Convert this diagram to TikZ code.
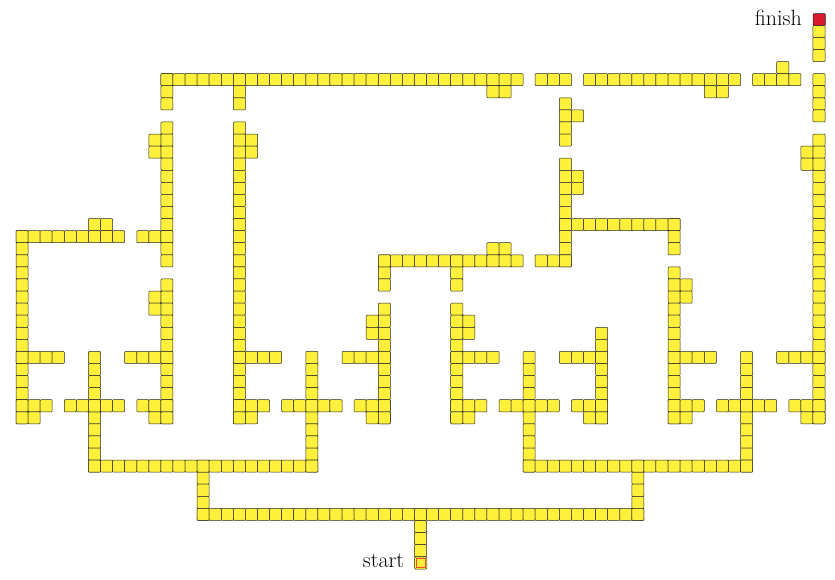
\documentclass[tikz,border=0pt]{standalone}
\usepackage{fontspec}
\definecolor{celly}{RGB}{255,240,60}
\definecolor{cellred}{RGB}{215,25,45}
\definecolor{startedge}{RGB}{235,80,30}
\def\pitch{12.075}
\tikzset{
  cellbox/.style={fill=celly, draw=black!85, line width=0.5pt, rounded corners=0.8pt},
  endcell/.style={cellbox, rectangle, inner sep=0pt, minimum size=12.075pt, anchor=north west},
  endlabel/.style={anchor=base east, inner sep=0pt, font=\fontsize{22}{26}\selectfont}
}
\newcommand\cellsH[3]{\foreach \cc in {#2,...,#3}{\path[cellbox] ({\cc*\pitch+16},{#1*\pitch+13.3}) rectangle ++(\pitch,\pitch);}}
\newcommand\cellsV[3]{\foreach \rr in {#2,...,#3}{\path[cellbox] ({#1*\pitch+16},{\rr*\pitch+13.3}) rectangle ++(\pitch,\pitch);}}
\begin{document}
\begin{tikzpicture}[x=1pt,y=-1pt]
\useasboundingbox (0,0) rectangle (835,580);
% vertical runs
\cellsV{0}{18}{33}
\cellsV{6}{28}{37}
\cellsV{12}{5}{7}
\cellsV{12}{9}{20}
\cellsV{12}{22}{33}
\cellsV{15}{37}{41}
\cellsV{18}{5}{7}
\cellsV{18}{9}{33}
\cellsV{24}{28}{37}
\cellsV{30}{20}{22}
\cellsV{30}{24}{33}
\cellsV{33}{41}{44}
\cellsV{36}{20}{22}
\cellsV{36}{24}{33}
\cellsV{42}{28}{37}
\cellsV{45}{7}{10}
\cellsV{45}{12}{20}
\cellsV{48}{26}{33}
\cellsV{51}{37}{41}
\cellsV{54}{17}{19}
\cellsV{54}{21}{33}
\cellsV{60}{28}{37}
\cellsV{66}{1}{3}
\cellsV{66}{5}{8}
\cellsV{66}{10}{33}
% horizontal runs
\cellsH{4}{63}{63}
\cellsH{5}{12}{41}
\cellsH{5}{43}{45}
\cellsH{5}{47}{59}
\cellsH{5}{61}{64}
\cellsH{6}{39}{40}
\cellsH{6}{57}{58}
\cellsH{8}{46}{46}
\cellsH{10}{11}{11}
\cellsH{10}{19}{19}
\cellsH{11}{11}{11}
\cellsH{11}{19}{19}
\cellsH{11}{65}{65}
\cellsH{12}{65}{65}
\cellsH{13}{46}{46}
\cellsH{14}{46}{46}
\cellsH{17}{6}{7}
\cellsH{17}{45}{54}
\cellsH{18}{0}{8}
\cellsH{18}{10}{12}
\cellsH{19}{39}{40}
\cellsH{20}{30}{41}
\cellsH{20}{43}{45}
\cellsH{22}{55}{55}
\cellsH{23}{11}{11}
\cellsH{23}{55}{55}
\cellsH{24}{11}{11}
\cellsH{25}{29}{29}
\cellsH{25}{37}{37}
\cellsH{26}{29}{29}
\cellsH{26}{37}{37}
\cellsH{28}{0}{3}
\cellsH{28}{9}{12}
\cellsH{28}{18}{21}
\cellsH{28}{27}{30}
\cellsH{28}{36}{39}
\cellsH{28}{45}{48}
\cellsH{28}{54}{57}
\cellsH{28}{63}{66}
\cellsH{32}{0}{2}
\cellsH{32}{4}{8}
\cellsH{32}{10}{12}
\cellsH{32}{18}{20}
\cellsH{32}{22}{26}
\cellsH{32}{28}{30}
\cellsH{32}{36}{38}
\cellsH{32}{40}{44}
\cellsH{32}{46}{48}
\cellsH{32}{54}{56}
\cellsH{32}{58}{62}
\cellsH{32}{64}{66}
\cellsH{33}{0}{1}
\cellsH{33}{11}{12}
\cellsH{33}{18}{19}
\cellsH{33}{29}{30}
\cellsH{33}{36}{37}
\cellsH{33}{47}{48}
\cellsH{33}{54}{55}
\cellsH{33}{65}{66}
\cellsH{37}{6}{24}
\cellsH{37}{42}{60}
\cellsH{41}{15}{51}
% start and finish
\node[endcell, fill=cellred] (finish) at ({66*\pitch+16},{0*\pitch+13.3}) {};
\node[endcell] (start) at ({33*\pitch+16},{45*\pitch+13.3}) {};
\draw[startedge, line width=0.9pt] ([shift={(1.8pt,1.8pt)}]start.south west) rectangle ([shift={(-1.8pt,-1.8pt)}]start.north east);
\node[endlabel] (finishlabel) at ([xshift=-11pt,yshift=0pt]finish.south west) {finish};
\node[endlabel] (startlabel) at ([xshift=-10pt,yshift=1.5pt]start.south west) {start};
\end{tikzpicture}
\end{document}
